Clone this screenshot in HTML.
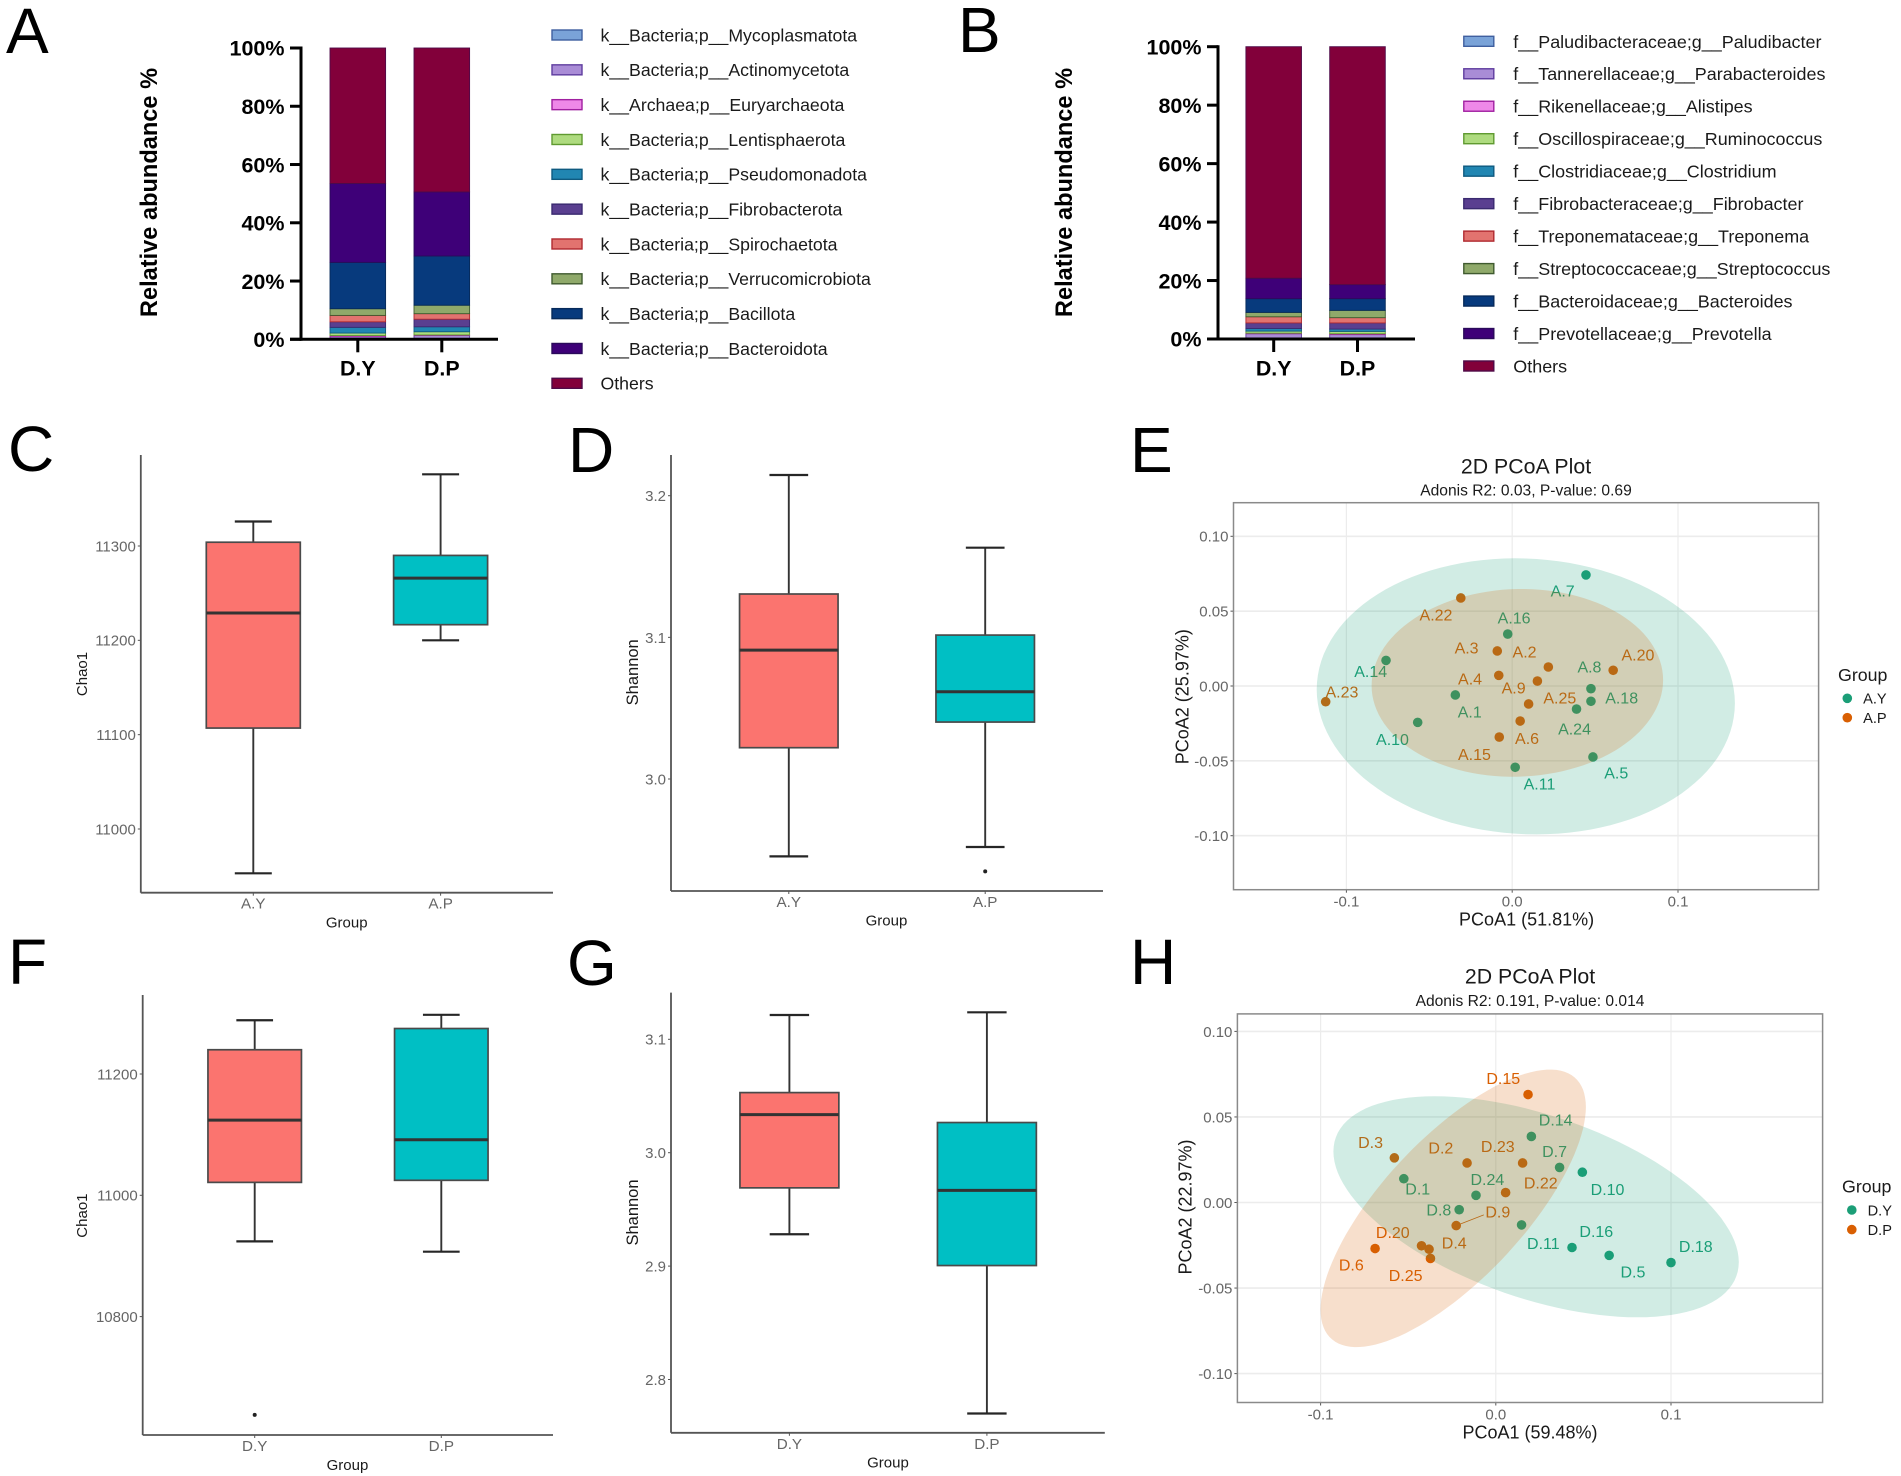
<!DOCTYPE html>
<html lang="en">
<head>
<meta charset="utf-8">
<title>Microbiome composition, alpha diversity and PCoA panels</title>
<style>
  html, body { margin: 0; padding: 0; background: #fff; }
  #figure { display: block; width: 1901px; height: 1476px; filter: blur(0.35px); font-family: "Liberation Sans", sans-serif; }
  .panel-letter { font-size: 64px; fill: #000; }
  .ax-title { fill: #1a1a1a; }
</style>
</head>
<body>
<svg id="figure" xmlns="http://www.w3.org/2000/svg" width="1901" height="1476" viewBox="0 0 1901 1476">
  <rect x="0" y="0" width="1901" height="1476" fill="#fff"/>

  <text class="panel-letter" x="6" y="53">A</text>
  <text class="panel-letter" x="958" y="52">B</text>
  <text class="panel-letter" x="8" y="471">C</text>
  <text class="panel-letter" x="568" y="472">D</text>
  <text class="panel-letter" x="1130" y="472">E</text>
  <text class="panel-letter" x="8" y="984">F</text>
  <text class="panel-letter" x="567" y="985">G</text>
  <text class="panel-letter" x="1130" y="984">H</text>

  <g id="panel-a">
    <text transform="translate(157,192.5) rotate(-90)" text-anchor="middle" font-size="23.6" font-weight="700" fill="#000">Relative abundance %</text>
  </g>
  <g id="panel-b">
    <text transform="translate(1072,192.5) rotate(-90)" text-anchor="middle" font-size="23.6" font-weight="700" fill="#000">Relative abundance %</text>
  </g>

  <g id="panel-c">
    <text class="ax-title" transform="translate(87,674) rotate(-90)" text-anchor="middle" font-size="15">Chao1</text>
    <text class="ax-title" x="346.7" y="927.5" text-anchor="middle" font-size="15">Group</text>
  </g>
  <g id="panel-d">
    <text class="ax-title" transform="translate(638,672.3) rotate(-90)" text-anchor="middle" font-size="16.5">Shannon</text>
    <text class="ax-title" x="886.5" y="925.5" text-anchor="middle" font-size="15">Group</text>
  </g>
  <g id="panel-f">
    <text class="ax-title" transform="translate(87,1215.6) rotate(-90)" text-anchor="middle" font-size="15">Chao1</text>
    <text class="ax-title" x="347.5" y="1470" text-anchor="middle" font-size="15">Group</text>
  </g>
  <g id="panel-g">
    <text class="ax-title" transform="translate(638,1212.5) rotate(-90)" text-anchor="middle" font-size="16.5">Shannon</text>
    <text class="ax-title" x="888" y="1467.5" text-anchor="middle" font-size="15">Group</text>
  </g>

  <g id="panel-e">
    <text class="ax-title" x="1526" y="473.5" text-anchor="middle" font-size="21.3">2D PCoA Plot</text>
    <text class="ax-title" x="1526" y="495.5" text-anchor="middle" font-size="15.6">Adonis R2: 0.03, P-value: 0.69</text>
    <text class="ax-title" x="1526.6" y="925.5" text-anchor="middle" font-size="18">PCoA1 (51.81%)</text>
    <text class="ax-title" transform="translate(1188.5,696.7) rotate(-90)" text-anchor="middle" font-size="18">PCoA2 (25.97%)</text>
    <text class="ax-title" x="1838" y="681" font-size="17.8">Group</text>
  </g>
  <g id="panel-h">
    <text class="ax-title" x="1530" y="983.5" text-anchor="middle" font-size="21.3">2D PCoA Plot</text>
    <text class="ax-title" x="1530" y="1006" text-anchor="middle" font-size="15.6">Adonis R2: 0.191, P-value: 0.014</text>
    <text class="ax-title" x="1530" y="1438.5" text-anchor="middle" font-size="18">PCoA1 (59.48%)</text>
    <text class="ax-title" transform="translate(1191.5,1207) rotate(-90)" text-anchor="middle" font-size="18">PCoA2 (22.97%)</text>
    <text class="ax-title" x="1842" y="1192.5" font-size="17.8">Group</text>
  </g>
</svg>

<script>
/* ---------- chart data ---------- */
const barCategories = ['D.Y', 'D.P'];
const percentTicks = [0, 20, 40, 60, 80, 100];

const phylumNames = ['k__Bacteria;p__Mycoplasmatota', 'k__Bacteria;p__Actinomycetota', 'k__Archaea;p__Euryarchaeota', 'k__Bacteria;p__Lentisphaerota', 'k__Bacteria;p__Pseudomonadota', 'k__Bacteria;p__Fibrobacterota', 'k__Bacteria;p__Spirochaetota', 'k__Bacteria;p__Verrucomicrobiota', 'k__Bacteria;p__Bacillota', 'k__Bacteria;p__Bacteroidota', 'Others'];
const phylumDY = [0.2, 0.7, 0.4, 0.85, 1.95, 1.9, 2.2, 2.3, 15.9, 27.1, 46.5];
const phylumDP = [0.2, 1.1, 0.2, 1.1, 1.7, 2.6, 1.9, 2.9, 16.9, 22.0, 49.4];

const genusNames = ['f__Paludibacteraceae;g__Paludibacter', 'f__Tannerellaceae;g__Parabacteroides', 'f__Rikenellaceae;g__Alistipes', 'f__Oscillospiraceae;g__Ruminococcus', 'f__Clostridiaceae;g__Clostridium', 'f__Fibrobacteraceae;g__Fibrobacter', 'f__Treponemataceae;g__Treponema', 'f__Streptococcaceae;g__Streptococcus', 'f__Bacteroidaceae;g__Bacteroides', 'f__Prevotellaceae;g__Prevotella', 'Others'];
const genusDY = [0.3, 1.5, 0.2, 0.7, 0.9, 1.9, 2.1, 1.5, 4.7, 7.0, 79.2];
const genusDP = [0.3, 1.2, 0.3, 0.8, 0.8, 2.1, 1.8, 2.5, 4.0, 4.8, 81.4];

/* box statistics: [whisker low, q1, median, q3, whisker high] */
const chaoATicks = [11000, 11100, 11200, 11300];
const chaoAGroups = ['A.Y', 'A.P'];
const chaoAY = [10953, 11107, 11229, 11304, 11326];
const chaoAP = [11200, 11216.6, 11266, 11290, 11376];
const chaoAOutliers = [[], []];

const shannonATicks = [3.0, 3.1, 3.2];
const shannonAY = [2.9454, 3.0221, 3.091, 3.1306, 3.2146];
const shannonAP = [2.952, 3.0402, 3.0616, 3.1016, 3.1633];
const shannonAOutliers = [[], [2.9348]];

const chaoDTicks = [10800, 11000, 11200];
const chaoDGroups = ['D.Y', 'D.P'];
const chaoDY = [10924, 11021.3, 11123.9, 11240, 11288.6];
const chaoDP = [10907, 11024.7, 11091.5, 11275, 11297.6];
const chaoDOutliers = [[10638], []];

const shannonDTicks = [2.8, 2.9, 3.0, 3.1];
const shannonDY = [2.9281, 2.969, 3.0336, 3.053, 3.1214];
const shannonDP = [2.77, 2.9005, 2.9668, 3.0266, 3.1238];
const shannonDOutliers = [[], []];

/* PCoA */
const pcoaXTicks = [-0.1, 0.0, 0.1];
const pcoaYTicks = [-0.10, -0.05, 0.00, 0.05, 0.10];

const ayIds = ['A.7', 'A.16', 'A.14', 'A.1', 'A.10', 'A.8', 'A.18', 'A.24', 'A.5', 'A.11'];
const ayPC1 = [0.0445, -0.0027, -0.0761, -0.0343, -0.057, 0.0475, 0.0475, 0.0388, 0.0487, 0.0018];
const ayPC2 = [0.0742, 0.0347, 0.0171, -0.006, -0.0243, -0.0018, -0.0102, -0.0154, -0.0474, -0.0543];
const apIds = ['A.22', 'A.3', 'A.2', 'A.20', 'A.4', 'A.9', 'A.23', 'A.25', 'A.6', 'A.15'];
const apPC1 = [-0.031, -0.009, 0.0218, 0.0609, -0.0081, 0.0152, -0.1125, 0.0099, 0.0048, -0.0078];
const apPC2 = [0.0588, 0.0234, 0.0127, 0.0105, 0.0071, 0.0033, -0.0105, -0.012, -0.0234, -0.0341];
/* ellipse: [centre x, centre y, half x-extent, half y-extent, correlation] */
const ayEllipse = [0.0082, -0.0069, 0.1261, 0.0922, -0.05];
const apEllipse = [0.0031, 0.0021, 0.0879, 0.0627, 0.03];

const dyIds = ['D.14', 'D.7', 'D.10', 'D.1', 'D.24', 'D.8', 'D.11', 'D.16', 'D.5', 'D.18'];
const dyPC1 = [0.0203, 0.0364, 0.0494, -0.0525, -0.0113, -0.0209, 0.0147, 0.0435, 0.0647, 0.1];
const dyPC2 = [0.0386, 0.0205, 0.0177, 0.0139, 0.0042, -0.0042, -0.0131, -0.0263, -0.0309, -0.0351];
const dpIds = ['D.15', 'D.3', 'D.2', 'D.23', 'D.22', 'D.9', 'D.20', 'D.4', 'D.25', 'D.6'];
const dpPC1 = [0.0184, -0.0579, -0.0164, 0.0153, 0.0056, -0.0226, -0.0424, -0.0381, -0.0373, -0.0689];
const dpPC2 = [0.0631, 0.0261, 0.0231, 0.0231, 0.0058, -0.0135, -0.0253, -0.0273, -0.0327, -0.0269];
const dyEllipse = [0.023, -0.0025, 0.1157, 0.0646, -0.5];
const dpEllipse = [-0.0243, -0.0034, 0.0757, 0.0811, 0.73];

/* ---------- presentation (not data) ---------- */
const stackFills = ['#7aa3d8', '#a98cd6', '#ee88e8', '#aedb7f', '#2186b2', '#5a3f90', '#e2736f', '#8fa96a', '#073a7d', '#3e0078', '#82003a'];
const stackStrokes = ['#3f5f9f', '#5f3d9f', '#a020a0', '#5f9a30', '#0f5a80', '#3a2a70', '#b02a30', '#3f5a2f', '#062a5a', '#2a0a5a', '#4f0a48'];
const labelNudge = {
  'A.7': [-23.3, 16], 'A.16': [6.4, -16.3], 'A.14': [-15.3, 11], 'A.1': [14.4, 17], 'A.10': [-25.2, 17],
  'A.8': [-1.5, -22], 'A.18': [30.7, -3.3], 'A.24': [-2, 19.7], 'A.5': [23.3, 15.7], 'A.11': [24.3, 16.7],
  'A.22': [-24.8, 17], 'A.3': [-30.7, -3.3], 'A.2': [-23.8, -15], 'A.20': [24.8, -15.7], 'A.4': [-28.7, 3.3],
  'A.9': [-23.8, 6.7], 'A.23': [16.3, -10], 'A.25': [31.2, -6], 'A.6': [6.9, 17], 'A.15': [-24.8, 17],
  'D.14': [24.3, -16.5], 'D.7': [-5, -16.2], 'D.10': [25.2, 16.8], 'D.1': [13.9, 10], 'D.24': [11.4, -16.2],
  'D.8': [-20.3, 0], 'D.11': [21.8, 18.2], 'D.16': [24.3, -16.2], 'D.5': [23.8, 16.2], 'D.18': [24.8, -16.2],
  'D.15': [-24.8, -16.5], 'D.3': [-23.8, -15.5], 'D.2': [-26.2, -15.1], 'D.23': [-24.8, -16.8], 'D.22': [35.1, -9.6],
  'D.9': [41.6, -13.7], 'D.20': [-28.7, -13.4], 'D.4': [25.2, -6.5], 'D.25': [-24.8, 16.8], 'D.6': [-23.8, 16.2]
};

/* ---------- helpers ---------- */
const SVGNS = document.getElementById('figure').namespaceURI;

function mk(tag, attrs, parent) {
  const el = document.createElementNS(SVGNS, tag);
  for (const k in attrs) el.setAttribute(k, attrs[k]);
  parent.appendChild(el);
  return el;
}
function label(str, x, cy, size, fill, anchor, parent, weight) {
  const el = mk('text', {
    x: x, y: cy + size * 0.36, 'font-size': size, fill: fill, 'text-anchor': anchor,
    'font-weight': weight || 400
  }, parent);
  el.textContent = str;
  return el;
}
function linear(d0, d1, r0, r1) {
  return function (v) { return r0 + (v - d0) * (r1 - r0) / (d1 - d0); };
}

/* ---------- stacked percent bars ---------- */
function drawStacked(cfg) {
  const root = document.getElementById(cfg.id);
  const y = linear(0, 100, cfg.y0, cfg.y100);
  const series = [cfg.first, cfg.second];

  series.forEach(function (values, c) {
    let cum = 0;
    values.forEach(function (v, s) {
      const top = y(cum + v);
      const bottom = y(cum);
      const seg = mk('rect', {
        x: cfg.centers[c] - cfg.barW / 2, y: top, width: cfg.barW, height: Math.max(bottom - top, 0.4),
        fill: stackFills[s], stroke: stackStrokes[s], 'stroke-width': 0.9
      }, root);
      
      
      cum += v;
    });
  });

  const yAxis = mk('line', { x1: cfg.axisX, x2: cfg.axisX, y1: y(100) - 1.5, y2: y(0) + 1.5, stroke: '#000', 'stroke-width': 3 }, root);
  
  
  const xAxis = mk('line', { x1: cfg.axisX - 11, x2: cfg.axisEnd, y1: y(0), y2: y(0), stroke: '#000', 'stroke-width': 3 }, root);
  
  

  percentTicks.forEach(function (t) {
    const tick = mk('line', { x1: cfg.axisX - 11, x2: cfg.axisX, y1: y(t), y2: y(t), stroke: '#000', 'stroke-width': 3 }, root);
    
    
    const tl = label(t + '%', cfg.axisX - 16.5, y(t), 21.5, '#000', 'end', root, 700);
    
    
  });

  barCategories.forEach(function (name, c) {
    const tick = mk('line', { x1: cfg.centers[c], x2: cfg.centers[c], y1: y(0), y2: y(0) + 13, stroke: '#000', 'stroke-width': 3 }, root);
    
    
    const tl = label(name, cfg.centers[c], 368, 21.4, '#000', 'middle', root, 700);
    
    
  });

  cfg.names.forEach(function (name, i) {
    const cy = cfg.legendY + i * cfg.legendStep;
    const entry = mk('g', {}, root);
    
    
    const sw = mk('rect', {
      x: cfg.legendX, y: cy - 5, width: 30, height: 10,
      fill: stackFills[i], stroke: stackStrokes[i], 'stroke-width': 1.4
    }, entry);
    
    
    const tx = label(name, cfg.legendX + cfg.legendGap, cy, cfg.legendFont, '#1a1a1a', 'start', entry);
    
    
  });
}

/* ---------- box plots ---------- */
function drawBox(cfg) {
  const root = document.getElementById(cfg.id);
  const y = linear(cfg.ref[0], cfg.ref[1], cfg.ref[2], cfg.ref[3]);
  const axisColor = '#555';

  const yAxis = mk('line', { x1: cfg.axisX, x2: cfg.axisX, y1: cfg.top, y2: cfg.bottom, stroke: axisColor, 'stroke-width': 1.8 }, root);
  
  
  const xAxis = mk('line', { x1: cfg.axisX, x2: cfg.axisEnd, y1: cfg.bottom, y2: cfg.bottom, stroke: axisColor, 'stroke-width': 1.8 }, root);
  
  

  cfg.ticks.forEach(function (t) {
    const tick = mk('line', { x1: cfg.axisX - 3, x2: cfg.axisX, y1: y(t), y2: y(t), stroke: axisColor, 'stroke-width': 1 }, root);
    
    
    const tl = label(t.toFixed(cfg.decimals), cfg.axisX - 5, y(t), 15, '#666', 'end', root);
    
    
  });

  const fills = ['#fb746f', '#00bfc4'];
  cfg.stats.forEach(function (s, i) {
    const cx = cfg.centers[i];
    const g = mk('g', {}, root);
    
    

    const whisker = mk('line', { x1: cx, x2: cx, y1: y(s[4]), y2: y(s[0]), stroke: '#333', 'stroke-width': 1.9 }, g);
    
    
    const capHi = mk('line', { x1: cx - cfg.capW / 2, x2: cx + cfg.capW / 2, y1: y(s[4]), y2: y(s[4]), stroke: '#262626', 'stroke-width': 2.2 }, g);
    
    
    const capLo = mk('line', { x1: cx - cfg.capW / 2, x2: cx + cfg.capW / 2, y1: y(s[0]), y2: y(s[0]), stroke: '#262626', 'stroke-width': 2.2 }, g);
    
    
    const box = mk('rect', {
      x: cx - cfg.boxW / 2, y: y(s[3]), width: cfg.boxW, height: y(s[1]) - y(s[3]),
      fill: fills[i], stroke: '#4a4a4a', 'stroke-width': 1.7
    }, g);
    
    
    const med = mk('line', { x1: cx - cfg.boxW / 2, x2: cx + cfg.boxW / 2, y1: y(s[2]), y2: y(s[2]), stroke: '#333', 'stroke-width': 3 }, g);
    
    

    cfg.outliers[i].forEach(function (o) {
      const pt = mk('circle', { cx: cx, cy: y(o), r: 2, fill: '#222' }, g);
      
      
    });

    const tick = mk('line', { x1: cx, x2: cx, y1: cfg.bottom, y2: cfg.bottom + 3, stroke: axisColor, 'stroke-width': 1 }, root);
    
    
    const tl = label(cfg.groups[i], cx, cfg.bottom + 10.5, 15.2, '#666', 'middle', root);
    
    
  });
}

/* ---------- PCoA scatter ---------- */
function drawPcoa(cfg) {
  const root = document.getElementById(cfg.id);
  const x = linear(cfg.xRef[0], cfg.xRef[1], cfg.xRef[2], cfg.xRef[3]);
  const y = linear(cfg.yRef[0], cfg.yRef[1], cfg.yRef[2], cfg.yRef[3]);
  const b = cfg.box;
  const colors = ['#1b9e77', '#d95f02'];

  pcoaXTicks.forEach(function (t) {
    const gl = mk('line', { x1: x(t), x2: x(t), y1: b.top, y2: b.bottom, stroke: '#ececec', 'stroke-width': 1.2 }, root);
    
    
    const tick = mk('line', { x1: x(t), x2: x(t), y1: b.bottom, y2: b.bottom + 3, stroke: '#555', 'stroke-width': 1 }, root);
    
    
    const tl = label(t.toFixed(1), x(t), b.bottom + 11.5, 15, '#666', 'middle', root);
    
    
  });
  pcoaYTicks.forEach(function (t) {
    const gl = mk('line', { x1: b.left, x2: b.right, y1: y(t), y2: y(t), stroke: '#ececec', 'stroke-width': 1.6 }, root);
    
    
    const tick = mk('line', { x1: b.left - 3, x2: b.left, y1: y(t), y2: y(t), stroke: '#555', 'stroke-width': 1 }, root);
    
    
    const tl = label(t.toFixed(2), b.left - 5, y(t), 15, '#666', 'end', root);
    
    
  });

  cfg.groups.forEach(function (grp, gi) {
    grp.ids.forEach(function (id, i) {
      const px = x(grp.xs[i]);
      const py = y(grp.ys[i]);
      const n = labelNudge[id];
      if (id === cfg.leaderId) {
        const leader = mk('line', { x1: px, y1: py, x2: px + n[0] - 14, y2: py + n[1] + 3, stroke: colors[gi], 'stroke-width': 0.8 }, root);
        
        
      }
      const pt = mk('circle', { cx: px, cy: py, r: 4.8, fill: colors[gi] }, root);
      
      
      const tl = label(id, px + n[0], py + n[1], 16, colors[gi], 'middle', root);
      
      
    });
  });

  cfg.ellipses.forEach(function (e, gi) {
    const phi = Math.asin(e[4]);
    let d = '';
    for (let k = 0; k < 120; k++) {
      const a = k / 120 * 2 * Math.PI;
      const ex = x(e[0] + e[2] * Math.cos(a));
      const ey = y(e[1] + e[3] * Math.sin(a + phi));
      d += (k ? 'L' : 'M') + ex.toFixed(1) + ' ' + ey.toFixed(1);
    }
    const shape = mk('path', { d: d + 'Z', fill: colors[gi], 'fill-opacity': 0.2 }, root);
    
    
  });

  const frame = mk('rect', { x: b.left, y: b.top, width: b.right - b.left, height: b.bottom - b.top, fill: 'none', stroke: '#8a8a8a', 'stroke-width': 1.5 }, root);
  
  

  cfg.legendNames.forEach(function (name, i) {
    const ly = cfg.legend.y + i * cfg.legend.step;
    const entry = mk('g', {}, root);
    
    
    const dot = mk('circle', { cx: cfg.legend.x, cy: ly, r: 4.8, fill: colors[i] }, entry);
    
    
    const tl = label(name, cfg.legend.x + 15.8, ly, 14.6, '#1a1a1a', 'start', entry);
    
    
  });
}

/* ---------- render ---------- */
drawStacked({ id: 'panel-a', first: phylumDY, second: phylumDP, names: phylumNames, y0: 339.3, y100: 48, axisX: 301, axisEnd: 498, centers: [357.8, 441.8], barW: 55.6, legendX: 552, legendY: 35, legendStep: 34.83, legendGap: 48.5, legendFont: 17.7 });
drawStacked({ id: 'panel-b', first: genusDY, second: genusDP, names: genusNames, y0: 339, y100: 46.7, axisX: 1218, axisEnd: 1415, centers: [1273.7, 1357.5], barW: 55.6, legendX: 1463.8, legendY: 41.3, legendStep: 32.47, legendGap: 49.5, legendFont: 17.95 });

drawBox({ id: 'panel-c', ref: [11000, 11300, 829, 546], ticks: chaoATicks, decimals: 0, groups: chaoAGroups, stats: [chaoAY, chaoAP], outliers: chaoAOutliers, axisX: 140.8, axisEnd: 553, top: 455, bottom: 892.7, centers: [253.3, 440.6], boxW: 94, capW: 37 });
drawBox({ id: 'panel-d', ref: [3.0, 3.2, 779, 495.7], ticks: shannonATicks, decimals: 1, groups: chaoAGroups, stats: [shannonAY, shannonAP], outliers: shannonAOutliers, axisX: 671, axisEnd: 1103, top: 455, bottom: 891, centers: [788.8, 985.2], boxW: 98.5, capW: 38.7 });
drawBox({ id: 'panel-f', ref: [11000, 11200, 1195.3, 1074], ticks: chaoDTicks, decimals: 0, groups: chaoDGroups, stats: [chaoDY, chaoDP], outliers: chaoDOutliers, axisX: 142.7, axisEnd: 553, top: 995, bottom: 1435, centers: [254.7, 441.3], boxW: 93.5, capW: 36.7 });
drawBox({ id: 'panel-g', ref: [3.0, 3.1, 1152.7, 1039.3], ticks: shannonDTicks, decimals: 1, groups: chaoDGroups, stats: [shannonDY, shannonDP], outliers: shannonDOutliers, axisX: 671, axisEnd: 1104.8, top: 992.6, bottom: 1432.8, centers: [789.4, 986.9], boxW: 98.9, capW: 39.4 });

drawPcoa({
  id: 'panel-e', xRef: [0, 0.1, 1512.2, 1678], yRef: [0, 0.1, 686, 536.3],
  box: { left: 1233.5, right: 1818.6, top: 502.7, bottom: 889.7 },
  groups: [{ ids: ayIds, xs: ayPC1, ys: ayPC2 }, { ids: apIds, xs: apPC1, ys: apPC2 }],
  ellipses: [ayEllipse, apEllipse], legendNames: chaoAGroups,
  legend: { x: 1847.3, y: 698.3, step: 19.4 }
});
drawPcoa({
  id: 'panel-h', xRef: [0, 0.1, 1495.8, 1671], yRef: [0, 0.1, 1202.5, 1031.4],
  box: { left: 1237.4, right: 1822.6, top: 1013.9, bottom: 1402.5 },
  groups: [{ ids: dyIds, xs: dyPC1, ys: dyPC2 }, { ids: dpIds, xs: dpPC1, ys: dpPC2 }],
  ellipses: [dyEllipse, dpEllipse], legendNames: chaoDGroups, leaderId: 'D.9',
  legend: { x: 1851.8, y: 1210, step: 19.6 }
});
</script>
</body>
</html>
